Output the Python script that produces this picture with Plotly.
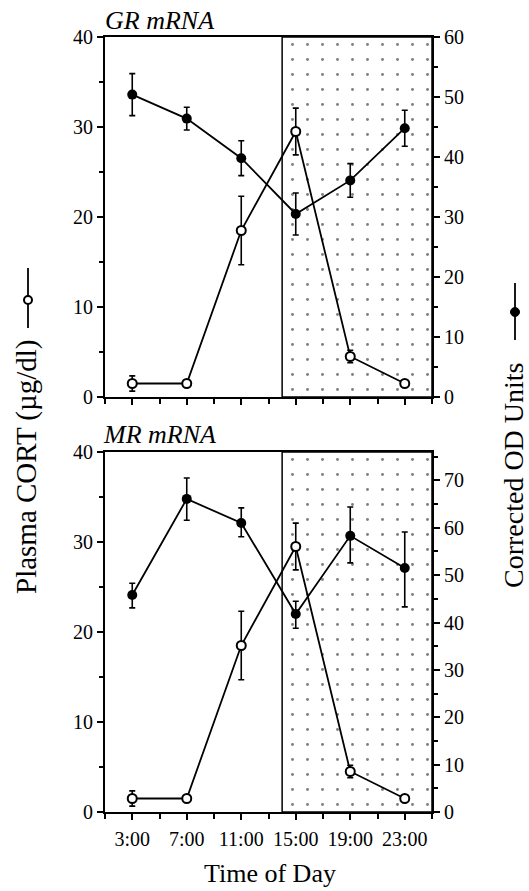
import plotly.graph_objects as go

# ---------------- data ----------------
TIMES = [3, 7, 11, 15, 19, 23]
TIME_LABELS = ["3:00", "7:00", "11:00", "15:00", "19:00", "23:00"]

# Plasma CORT (ug/dl), same in both panels (open circles, left axis)
CORT = [1.5, 1.5, 18.5, 29.5, 4.5, 1.5]
CORT_ERR = [0.85, 0.0, 3.8, 2.6, 0.7, 0.0]

# GR mRNA corrected OD units (filled circles, right axis)
GR_OD = [50.4, 46.4, 39.8, 30.5, 36.1, 44.8]
GR_ERR = [3.5, 1.9, 2.9, 3.5, 2.8, 3.0]

# MR mRNA corrected OD units (filled circles, right axis)
MR_OD = [45.8, 66.1, 61.0, 41.8, 58.3, 51.5]
MR_ERR_PLUS = [2.5, 4.4, 3.2, 2.7, 6.1, 7.6]
MR_ERR_MINUS = [2.7, 4.5, 2.9, 3.0, 5.7, 8.2]

NIGHT_START, NIGHT_END = 14, 25   # dark phase (dotted region)
X_RANGE = [1, 25]
CORT_MAX = 40
GR_MAX = 60
MR_MAX = 76

# ---------------- layout helpers ----------------
W, H = 529, 891
FONT = "Liberation Serif"


def px(x):
    return x / W


def py(y):
    return 1 - y / H


XDOM = [px(105), px(432)]
TOP_DOM = [py(397), py(37)]
BOT_DOM = [py(812), py(452)]

fig = go.Figure()


def add_panel(xa, ya_left, ya_right, od, od_plus, od_minus):
    # night shading with dot pattern
    fig.add_trace(go.Scatter(
        x=[NIGHT_START, NIGHT_END, NIGHT_END, NIGHT_START, NIGHT_START],
        y=[0, 0, CORT_MAX, CORT_MAX, 0],
        xaxis=xa, yaxis=ya_left, mode="lines", fill="toself",
        fillcolor="white",
        fillpattern=dict(shape=".", size=15, solidity=0.03,
                         fgcolor="black", bgcolor="white"),
        line=dict(color="black", width=1.5),
        hoverinfo="skip", showlegend=False))
    # CORT (open circles)
    fig.add_trace(go.Scatter(
        x=TIMES, y=CORT, xaxis=xa, yaxis=ya_left, mode="lines+markers",
        line=dict(color="black", width=1.8),
        marker=dict(symbol="circle", size=9, color="white",
                    line=dict(color="black", width=2)),
        error_y=dict(type="data", array=CORT_ERR, color="black",
                     thickness=1.6, width=3),
        showlegend=False))
    # OD (filled circles)
    fig.add_trace(go.Scatter(
        x=TIMES, y=od, xaxis=xa, yaxis=ya_right, mode="lines+markers",
        line=dict(color="black", width=1.8),
        marker=dict(symbol="circle", size=10, color="black"),
        error_y=dict(type="data", symmetric=False, array=od_plus,
                     arrayminus=od_minus, color="black",
                     thickness=1.6, width=3),
        showlegend=False))


add_panel("x", "y", "y2", GR_OD, GR_ERR, GR_ERR)
add_panel("x2", "y3", "y4", MR_OD, MR_ERR_PLUS, MR_ERR_MINUS)

tickfont = dict(family=FONT, size=20, color="black")

xcommon = dict(range=X_RANGE, domain=XDOM, showgrid=False, zeroline=False,
               showline=True, linecolor="black", linewidth=2, mirror=True,
               automargin=False,
               ticks="outside", ticklen=6, tickwidth=1.5, tickcolor="black",
               tickvals=TIMES, ticktext=TIME_LABELS, tickfont=tickfont,
               minor=dict(ticks="outside", ticklen=5, tickwidth=1.5,
                          tickcolor="black", dtick=2, tick0=1, showgrid=False))

ycommon = dict(showgrid=False, zeroline=False, showline=True,
               linecolor="black", linewidth=2, ticks="outside", ticklen=6,
               automargin=False,
               tickwidth=1.5, tickcolor="black", dtick=10, tickfont=tickfont,
               minor=dict(ticks="outside", ticklen=4, tickwidth=1.5,
                          tickcolor="black", dtick=5, showgrid=False))

fig.update_layout(
    width=W, height=H,
    margin=dict(l=0, r=0, t=0, b=0, pad=0, autoexpand=False),
    paper_bgcolor="white", plot_bgcolor="white", showlegend=False,
    xaxis=dict(**xcommon, anchor="y", showticklabels=False),
    xaxis2=dict(**xcommon, anchor="y3", showticklabels=True,
                ticklabelstandoff=2),
    yaxis=dict(**ycommon, domain=TOP_DOM, range=[0, CORT_MAX], anchor="x"),
    yaxis2=dict(**ycommon, range=[0, GR_MAX], anchor="x", overlaying="y",
                side="right"),
    yaxis3=dict(**ycommon, domain=BOT_DOM, range=[0, CORT_MAX], anchor="x2"),
    yaxis4=dict(**ycommon, range=[0, MR_MAX], anchor="x2", overlaying="y3",
                side="right"),
)


def label(text, x, y, size, angle=0, xanchor="center"):
    fig.add_annotation(text=text, x=px(x), y=py(y), xref="paper",
                       yref="paper", xanchor=xanchor, yanchor="middle",
                       textangle=angle, showarrow=False,
                       font=dict(family=FONT, size=size, color="black"))


# panel titles
label("<i>GR mRNA</i>", 103, 20, 26, xanchor="left")
label("<i>MR mRNA</i>", 101, 434, 26, xanchor="left")

# axis titles
label("Time of Day", 270, 873, 26)
label("Plasma CORT (µg/dl)", 27, 467, 29, angle=-90)
label("Corrected OD Units", 513, 475, 28, angle=-90)

# legend keys next to the axis titles
fig.add_shape(type="line", xref="paper", yref="paper", x0=px(28), x1=px(28),
              y0=py(268), y1=py(328), line=dict(color="black", width=1.8))
fig.add_shape(type="circle", xref="paper", yref="paper", x0=px(24), x1=px(32),
              y0=py(304), y1=py(296), fillcolor="white",
              line=dict(color="black", width=2))
fig.add_shape(type="line", xref="paper", yref="paper", x0=px(515), x1=px(515),
              y0=py(283), y1=py(340), line=dict(color="black", width=1.8))
fig.add_shape(type="circle", xref="paper", yref="paper", x0=px(510.5),
              x1=px(519.5), y0=py(316.5), y1=py(307.5), fillcolor="black",
              line=dict(color="black", width=1))

fig.write_html("out.html")
